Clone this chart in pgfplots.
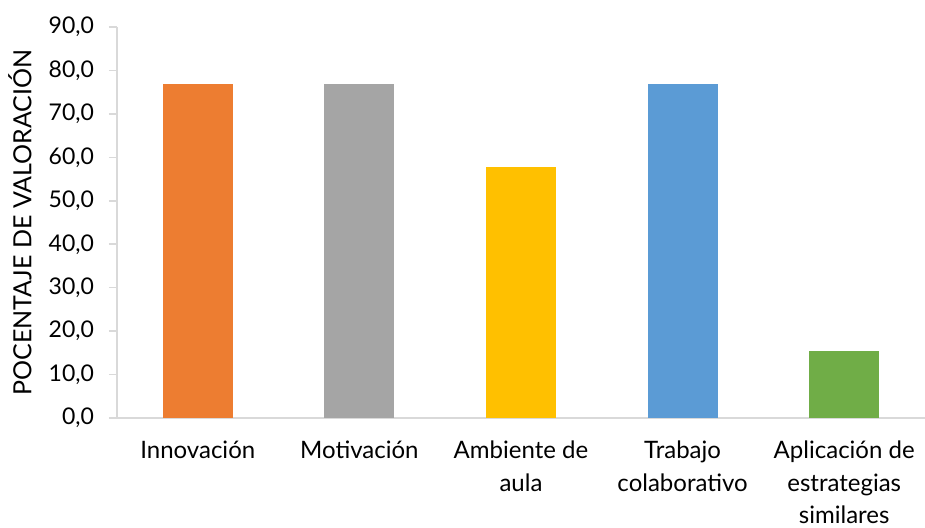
\documentclass[border=0pt]{standalone}
\usepackage{pgfplots}
\pgfplotsset{compat=1.18}
\usepackage{fontspec}
\setmainfont{Lato}
\definecolor{cOrange}{HTML}{ED7D31}
\definecolor{cGrey}{HTML}{A5A5A5}
\definecolor{cYellow}{HTML}{FFC000}
\definecolor{cBlue}{HTML}{5B9BD5}
\definecolor{cGreen}{HTML}{70AD47}
\definecolor{axisgrey}{HTML}{D9D9D9}
\begin{document}
\begin{tikzpicture}
\useasboundingbox (-58.5pt,-54.5pt) rectangle (404pt,209pt);
\begin{axis}[
  scale only axis,
  width=404pt, height=195.5pt,
  xmin=-0.5, xmax=4.5,
  ymin=0, ymax=90,
  ytick={0,10,...,90},
  xtick={0,1,2,3,4},
  xticklabels={Innovación, Motivación, {Ambiente de\\aula}, {Trabajo\\colaborativo}, {Aplicación de\\estrategias\\similares}},
  xticklabel style={align=center, font=\fontsize{12}{16.3}\selectfont, yshift=-4pt},
  yticklabel style={font=\fontsize{11.5}{13}\selectfont, xshift=-4pt},
  /pgf/number format/assume math mode=true,
  yticklabel={\pgfmathprintnumber[fixed,fixed zerofill,precision=1,use comma]{\tick}},
  axis x line*=bottom,
  axis y line*=left,
  axis line style={draw=axisgrey, line width=0.75pt},
  x axis line style={-},
  y axis line style={-},
  major tick length=4pt,
  xtick style={draw=none},
  ytick style={draw=axisgrey, line width=0.75pt},
  tick align=outside,
  ylabel={POCENTAJE DE VALORACIÓN},
  every axis y label/.style={at={(axis description cs:0,0.5)}, rotate=90, anchor=center, yshift=48.5pt, font=\fontsize{12.5}{14}\selectfont},
  ybar, bar width=35pt, bar shift=0pt,
]
\addplot[fill=cOrange, draw=none] coordinates {(0,76.9)};
\addplot[fill=cGrey, draw=none] coordinates {(1,76.9)};
\addplot[fill=cYellow, draw=none] coordinates {(2,57.7)};
\addplot[fill=cBlue, draw=none] coordinates {(3,76.9)};
\addplot[fill=cGreen, draw=none] coordinates {(4,15.4)};
\end{axis}
\end{tikzpicture}
\end{document}
